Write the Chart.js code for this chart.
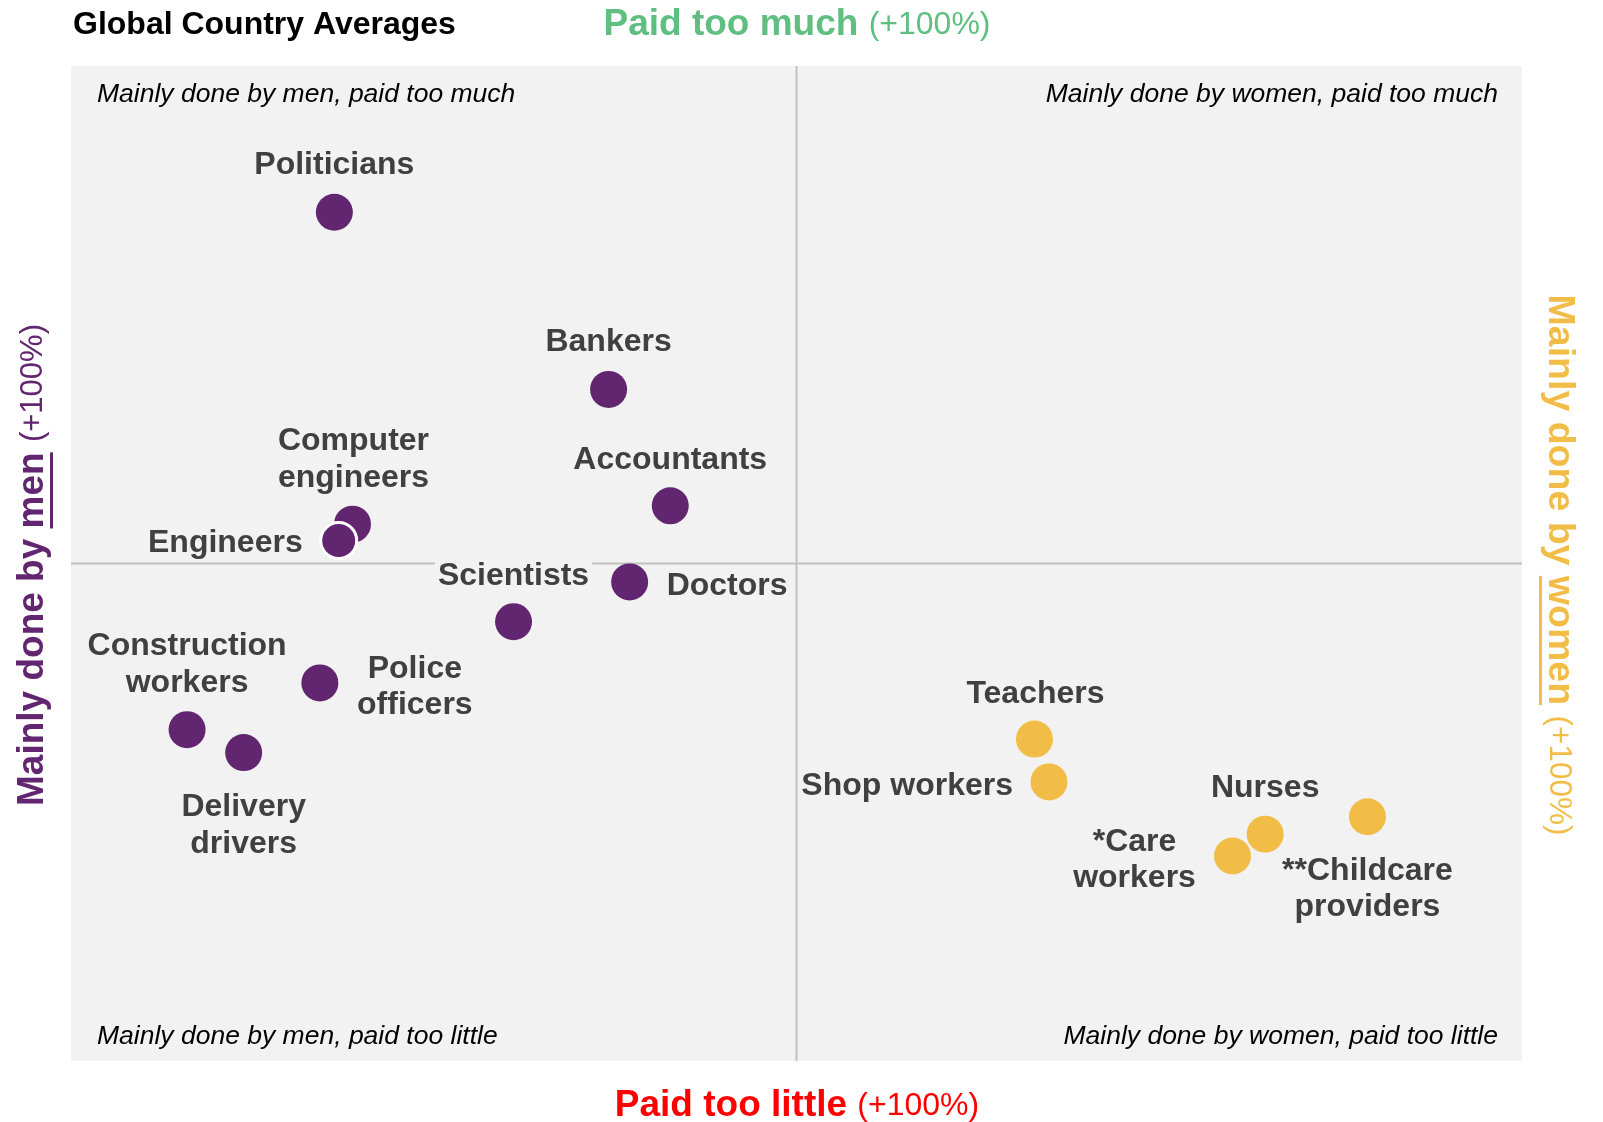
<!DOCTYPE html>
<html>
<head>
<meta charset="utf-8">
<script src="https://cdn.jsdelivr.net/npm/chart.js@4.4.1/dist/chart.umd.min.js"></script>
<style>
  html, body { margin: 0; padding: 0; background: #fff; }
  #wrap { width: 1603px; height: 1122px; }
</style>
</head>
<body>
<div id="wrap"><canvas id="myChart" width="1603" height="1122"></canvas></div>
<script>
// occupations (\n = line break in the label)
const occupations = [
    'Politicians', 'Bankers', 'Accountants', 'Computer\nengineers', 'Engineers',
    'Doctors', 'Scientists', 'Police\nofficers', 'Construction\nworkers', 'Delivery\ndrivers',
    'Teachers', 'Shop workers', 'Nurses', '*Care\nworkers', '**Childcare\nproviders'
];
// x: -100 = mainly done by men, +100 = mainly done by women
const genderSkew = [-63.7, -25.9, -17.4, -61.2, -63.1, -23.0, -39.0, -65.7, -84.0, -76.2, 32.8, 34.8, 64.6, 60.1, 78.7];
// y: +100 = paid too much, -100 = paid too little
const payBalance = [70.6, 35.0, 11.6, 7.9, 4.6, -3.7, -11.7, -24.0, -33.4, -38.0, -35.3, -43.9, -54.4, -58.8, -50.9];
const mainlyBy = ['men', 'men', 'men', 'men', 'men', 'men', 'men', 'men', 'men', 'men', 'women', 'women', 'women', 'women', 'women'];

const quadrantLabels = [
    'Mainly done by men, paid too much', 'Mainly done by women, paid too much',
    'Mainly done by men, paid too little', 'Mainly done by women, paid too little'
];

const PURPLE = '#62256f';
const YELLOW = '#f2bd47';
const GREEN = '#5ebf80';
const RED = '#ff0000';
const LABEL = '#404040';
const PLOT_BG = '#f2f2f2';
const FONT = '"Liberation Sans", Arial, sans-serif';

// label placement relative to the dot, in px: [dx, dy of first line, align]
const labelPlace = [
    [0, -47, 'center'], [0, -47, 'center'], [0, -46, 'center'], [1, -83, 'center'], [-36, 3, 'right'],
    [37, 4, 'left'], [0, -46, 'center'], [95, -14, 'center'], [0, -83, 'center'], [0, 55, 'center'],
    [1, -45, 'center'], [-36, 4, 'right'], [0, -46, 'center'], [-98, -14, 'center'], [0, 54, 'center']
];
const LINE_H = 36.5;

function drawParts(ctx, parts, x, y) {
    // parts: [{text, font, underline}] drawn centered at x
    let total = 0;
    parts.forEach(p => { ctx.font = p.font; p.w = ctx.measureText(p.text).width; total += p.w; });
    let cx = x - total / 2;
    ctx.textAlign = 'left';
    ctx.textBaseline = 'middle';
    parts.forEach(p => {
        ctx.font = p.font;
        ctx.fillText(p.text, cx, y);
        if (p.underline) {
            const lead = ctx.measureText(p.underline[0]).width;
            const uw = ctx.measureText(p.underline[1]).width;
            ctx.fillRect(cx + lead, y + 17, uw, 3);
        }
        cx += p.w;
    });
}

const quadrantPlugin = {
    id: 'quadrants',
    beforeDraw(chart) {
        const { ctx, chartArea: a } = chart;
        ctx.save();
        ctx.fillStyle = '#ffffff';
        ctx.fillRect(0, 0, chart.width, chart.height);
        ctx.fillStyle = PLOT_BG;
        ctx.fillRect(a.left, a.top, a.right - a.left, a.bottom - a.top);
        const x0 = chart.scales.x.getPixelForValue(0);
        const y0 = chart.scales.y.getPixelForValue(0);
        ctx.strokeStyle = '#c0c0c0';
        ctx.lineWidth = 2;
        ctx.beginPath();
        ctx.moveTo(x0, a.top); ctx.lineTo(x0, a.bottom);
        ctx.moveTo(a.left, y0); ctx.lineTo(a.right, y0);
        ctx.stroke();

        // corner labels
        ctx.fillStyle = '#000';
        ctx.font = 'italic 26.5px ' + FONT;
        ctx.textBaseline = 'middle';
        ctx.textAlign = 'left';
        ctx.fillText(quadrantLabels[0], a.left + 26, a.top + 29);
        ctx.fillText(quadrantLabels[2], a.left + 26, a.bottom - 24);
        ctx.textAlign = 'right';
        ctx.fillText(quadrantLabels[1], a.right - 24, a.top + 29);
        ctx.fillText(quadrantLabels[3], a.right - 24, a.bottom - 24);

        // title
        ctx.textAlign = 'left';
        ctx.font = 'bold 32px ' + FONT;
        ctx.fillText('Global Country Averages', 73, 25);

        // top / bottom axis titles
        ctx.fillStyle = GREEN;
        drawParts(ctx, [
            { text: 'Paid too much ', font: 'bold 37px ' + FONT },
            { text: '(+100%)', font: '32px ' + FONT }
        ], 797, 25);
        ctx.fillStyle = RED;
        drawParts(ctx, [
            { text: 'Paid too little ', font: 'bold 37px ' + FONT },
            { text: '(+100%)', font: '32px ' + FONT }
        ], 797, 1106);

        // left axis title (men)
        ctx.save();
        ctx.translate(33, 565);
        ctx.rotate(-Math.PI / 2);
        ctx.fillStyle = PURPLE;
        drawParts(ctx, [
            { text: 'Mainly done by men ', font: 'bold 37px ' + FONT, underline: ['Mainly done by ', 'men'] },
            { text: '(+100%)', font: '31px ' + FONT }
        ], 0, 0);
        ctx.restore();

        // right axis title (women)
        ctx.save();
        ctx.translate(1559, 565);
        ctx.rotate(Math.PI / 2);
        ctx.fillStyle = YELLOW;
        drawParts(ctx, [
            { text: 'Mainly done by women ', font: 'bold 37.5px ' + FONT, underline: ['Mainly done by ', 'women'] },
            { text: '(+100%)', font: '31.5px ' + FONT }
        ], 0, 0);
        ctx.restore();
        ctx.restore();
    },
    afterDatasetsDraw(chart) {
        const { ctx } = chart;
        const meta = chart.getDatasetMeta(0);
        ctx.save();
        ctx.font = 'bold 32px ' + FONT;
        ctx.textBaseline = 'middle';
        meta.data.forEach((pt, i) => {
            const [dx, dy, align] = labelPlace[i];
            const lines = occupations[i].split('\n');
            ctx.textAlign = align;
            lines.forEach((line, k) => {
                const x = pt.x + dx;
                const y = pt.y + dy + k * LINE_H;
                if (occupations[i] === 'Scientists') {
                    const w = ctx.measureText(line).width;
                    ctx.fillStyle = PLOT_BG;
                    ctx.fillRect(x - w / 2 - 3, y - 19, w + 6, 34);
                }
                ctx.fillStyle = LABEL;
                ctx.fillText(line, x, y);
            });
        });
        ctx.restore();
    }
};

const points = genderSkew.map((x, i) => ({ x: x, y: payBalance[i] }));
const colors = mainlyBy.map(g => g === 'men' ? PURPLE : YELLOW);
const borderW = occupations.map(o => o === 'Engineers' ? 3 : 0);

const ctx = document.getElementById('myChart').getContext('2d');
const chart = new Chart(ctx, {
    type: 'scatter',
    data: {
        datasets: [{
            data: points,
            backgroundColor: colors,
            borderColor: '#ffffff',
            borderWidth: borderW,
            pointRadius: occupations.map(o => o === 'Engineers' ? 18 : 18.5),
            pointHoverRadius: 18.5
        }]
    },
    options: {
        responsive: false,
        animation: false,
        events: [],
        layout: { padding: { left: 71, right: 81, top: 66, bottom: 61 } },
        scales: {
            x: { display: false, min: -100, max: 100 },
            y: { display: false, min: -100, max: 100 }
        },
        plugins: {
            legend: { display: false },
            tooltip: { enabled: false }
        }
    },
    plugins: [quadrantPlugin]
});
</script>
</body>
</html>
